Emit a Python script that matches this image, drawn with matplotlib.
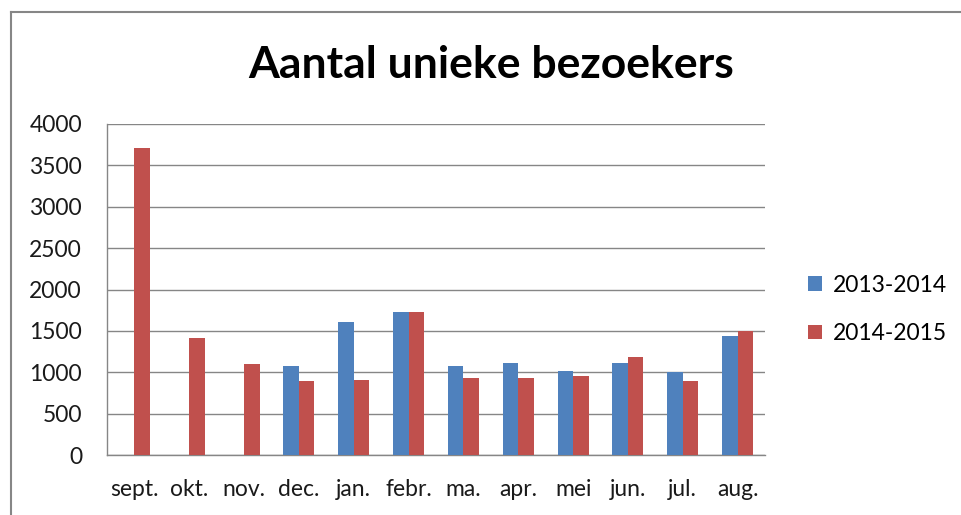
import numpy as np
import matplotlib.pyplot as plt
from matplotlib.lines import Line2D

months = ['sept.', 'okt.', 'nov.', 'dec.', 'jan.', 'febr.', 'ma.',
          'apr.', 'mei', 'jun.', 'jul.', 'aug.']
s2013 = [0, 0, 0, 1080, 1610, 1730, 1070, 1110, 1020, 1110, 1000, 1440]
s2014 = [3710, 1410, 1100, 900, 910, 1730, 930, 930, 960, 1190, 900, 1500]
series_names = ['2013-2014', '2014-2015']
yticks = np.arange(0, 4001, 500)

plt.rcParams['font.family'] = ['Lato', 'DejaVu Sans']

fig = plt.figure(figsize=(9.61, 5.15), dpi=100)
ax = fig.add_axes([107 / 961, 1 - 455 / 515, 658 / 961, 331 / 515])

x = np.arange(len(months))
w = 0.283
ax.bar(x - w / 2, s2013, w, color='#4F81BD', label=series_names[0], zorder=3)
ax.bar(x + w / 2, s2014, w, color='#C0504D', label=series_names[1], zorder=3)

ax.set_xlim(-0.5, len(months) - 0.5)
ax.set_ylim(0, 4000)
ax.set_yticks(yticks)
ax.set_yticklabels([str(v) for v in yticks], fontsize=16.5, color='#1a1a1a')
ax.set_xticks(x)
ax.set_xticklabels(months, fontsize=16.5, color='#1a1a1a')
ax.tick_params(axis='both', length=0)
ax.tick_params(axis='y', pad=18)
ax.tick_params(axis='x', pad=17)
ax.grid(axis='y', color='#868686', linewidth=1.0, zorder=0)
for s in ax.spines.values():
    s.set_color('#868686')
    s.set_linewidth(1.0)
ax.spines['top'].set_visible(False)
ax.spines['right'].set_visible(False)

fig.text(491 / 961, 1 - 65 / 515, 'Aantal unieke bezoekers', ha='center', va='center',
         fontsize=32, fontweight='bold', color='black')

ax.legend(loc='center left', bbox_to_anchor=(1.034, 0.44), frameon=False, fontsize=16.5,
          handlelength=0.6, handleheight=0.6, handletextpad=0.5, labelspacing=1.2)

# chart frame (cropped on right and bottom)
fig.add_artist(Line2D([10.5 / 961, 10.5 / 961], [0, 1 - 12 / 515], transform=fig.transFigure,
                      color='#868686', linewidth=1.5))
fig.add_artist(Line2D([10.5 / 961, 1], [1 - 12 / 515, 1 - 12 / 515], transform=fig.transFigure,
                      color='#868686', linewidth=1.5))

fig.savefig('out.png', dpi=100)
